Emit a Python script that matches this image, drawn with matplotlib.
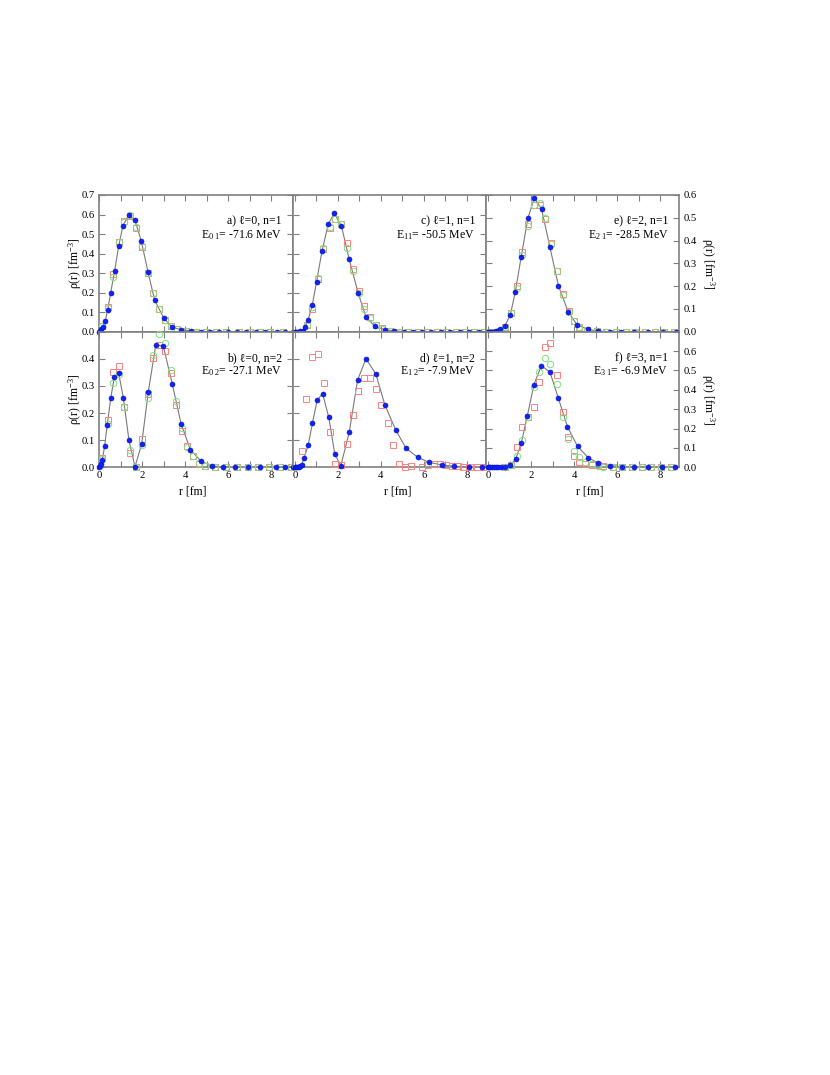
import matplotlib
matplotlib.use("Agg")
import matplotlib.pyplot as plt
from matplotlib.ticker import MultipleLocator, FormatStrFormatter

plt.rcParams['font.family'] = ['Liberation Serif', 'DejaVu Serif']
plt.rcParams['mathtext.fontset'] = 'custom'
plt.rcParams['mathtext.rm'] = 'Liberation Serif'
plt.rcParams['mathtext.it'] = 'Liberation Serif:italic'

# ---- data ----
# a) l=0, n=1
a_r = [0.0, 0.04, 0.10, 0.17, 0.28, 0.39, 0.53, 0.71, 0.90, 1.10, 1.37, 1.66, 1.96, 2.27, 2.58,
       3.01, 3.40, 3.82, 4.27, 4.72, 5.16, 5.56, 5.97, 6.40, 6.81, 7.29, 7.71, 8.25, 8.64, 9.03]
a_blue = [0.0, 0.004, 0.012, 0.025, 0.055, 0.113, 0.20, 0.31, 0.437, 0.543, 0.599, 0.570, 0.462, 0.304, 0.160,
          0.068, 0.022, 0.010, 0.004, 0.001, 0, 0, 0, 0, 0, 0, 0, 0, 0, 0]
a_rr = [0.13, 0.39, 0.65, 0.90, 1.17, 1.43, 1.71, 1.99, 2.25, 2.52, 2.77, 3.05, 3.34, 3.60, 4.04,
        4.50, 4.97, 5.44, 5.90, 6.50, 7.00, 7.46, 7.93, 8.55]
a_red = [0.03, 0.128, 0.295, 0.460, 0.565, 0.590, 0.530, 0.432, 0.300, 0.200, 0.116, 0.060, 0.030, 0.013, 0.003,
         0, 0, 0, 0, 0, 0, 0, 0, 0]
a_green = [0.03, 0.120, 0.280, 0.460, 0.560, 0.600, 0.535, 0.440, 0.300, 0.200, 0.116, 0.058, 0.028, 0.012, 0.003,
           0, 0, 0, 0, 0, 0, 0, 0, 0]

# b) l=0, n=2
b_r = [0.0, 0.04, 0.08, 0.14, 0.25, 0.37, 0.53, 0.70, 0.90, 1.12, 1.38, 1.66, 1.97, 2.28, 2.63,
       2.98, 3.40, 3.81, 4.24, 4.74, 5.24, 5.75, 6.30, 6.90, 7.50, 8.20, 8.64, 9.03]
b_blue = [0.0, 0.004, 0.012, 0.028, 0.079, 0.157, 0.254, 0.332, 0.347, 0.256, 0.100, 0.002, 0.085, 0.278, 0.452,
          0.446, 0.306, 0.159, 0.065, 0.022, 0.005, 0.001, 0, 0, 0, 0, 0, 0]
b_rr = [0.13, 0.39, 0.65, 0.90, 1.17, 1.43, 1.70, 1.97, 2.25, 2.52, 2.80, 3.06, 3.34, 3.57, 3.85,
        4.10, 4.37, 4.66, 4.93, 5.40, 5.90, 6.40, 6.90, 7.40, 7.90, 8.40, 8.90]
b_red = [0.035, 0.175, 0.350, 0.374, 0.221, 0.054, 0.0, 0.104, 0.270, 0.402, 0.452, 0.427, 0.347, 0.230, 0.134,
         0.077, 0.040, 0.013, 0.006, 0.001, 0, 0, 0, 0, 0, 0, 0]
b_green = [0.030, 0.160, 0.311, 0.345, 0.222, 0.062, 0.0, 0.082, 0.255, 0.415, 0.490, 0.460, 0.360, 0.245, 0.145,
           0.075, 0.040, 0.015, 0.006, 0.001, 0, 0, 0, 0, 0, 0, 0]

# c) l=1, n=1
c_r = [0.0, 0.05, 0.10, 0.17, 0.26, 0.36, 0.47, 0.62, 0.81, 1.01, 1.26, 1.55, 1.83, 2.17, 2.53,
       2.95, 3.31, 3.73, 4.18, 4.63, 5.06, 5.51, 5.92, 6.35, 6.80, 7.20, 7.69, 8.12, 8.57, 8.93]
c_blue = [0, 0, 0, 0.001, 0.002, 0.006, 0.022, 0.060, 0.135, 0.256, 0.411, 0.549, 0.607, 0.541, 0.370,
          0.197, 0.075, 0.027, 0.011, 0.004, 0.001, 0, 0, 0, 0, 0, 0, 0, 0, 0]
c_rr = [0.57, 0.82, 1.09, 1.32, 1.63, 1.89, 2.17, 2.44, 2.69, 2.97, 3.23, 3.49, 3.77, 4.04, 4.43,
        4.84, 5.28, 5.75, 6.16, 6.60, 7.03, 7.48, 7.92, 8.35, 8.82]
c_red = [0.032, 0.118, 0.270, 0.425, 0.530, 0.578, 0.553, 0.456, 0.319, 0.206, 0.130, 0.075, 0.036, 0.019, 0.006,
         0, 0, 0, 0, 0, 0, 0, 0, 0, 0]
c_green = [0.036, 0.125, 0.275, 0.430, 0.535, 0.578, 0.550, 0.430, 0.310, 0.200, 0.118, 0.070, 0.032, 0.015, 0.005,
           0, 0, 0, 0, 0, 0, 0, 0, 0, 0]

# d) l=1, n=2
d_r = [0.0, 0.05, 0.10, 0.17, 0.24, 0.31, 0.43, 0.62, 0.82, 1.04, 1.29, 1.58, 1.86, 2.14, 2.53,
       2.92, 3.31, 3.77, 4.19, 4.69, 5.17, 5.71, 6.26, 6.83, 7.41, 8.10, 8.73]
d_blue = [0, 0, 0, 0.001, 0.003, 0.009, 0.033, 0.082, 0.163, 0.248, 0.272, 0.184, 0.048, 0.006, 0.129,
          0.322, 0.400, 0.344, 0.230, 0.138, 0.071, 0.037, 0.018, 0.009, 0.004, 0.001, 0.0]
d_rr = [0.31, 0.54, 0.81, 1.09, 1.37, 1.63, 1.88, 2.14, 2.41, 2.69, 2.95, 3.21, 3.49, 3.77, 4.01,
        4.32, 4.58, 4.84, 5.12, 5.39, 5.90, 6.20, 6.48, 6.76, 7.04, 7.33, 7.58, 7.84, 8.15, 8.46, 8.77]
d_red = [0.061, 0.252, 0.405, 0.418, 0.310, 0.129, 0.012, 0.010, 0.086, 0.193, 0.283, 0.329, 0.329, 0.289, 0.231,
         0.163, 0.084, 0.013, 0.002, 0.005, 0.002, 0.009, 0.012, 0.012, 0.010, 0.005, 0.005, 0.002, 0.0, 0.0, 0.0]

# e) l=2, n=1
e_r = [0.0, 0.05, 0.10, 0.17, 0.26, 0.36, 0.45, 0.56, 0.78, 1.03, 1.26, 1.54, 1.85, 2.15, 2.49,
       2.87, 3.27, 3.72, 4.14, 4.64, 5.10, 5.66, 6.18, 6.80, 7.42, 8.12, 8.75]
e_blue = [0, 0, 0, 0, 0, 0.001, 0.003, 0.010, 0.026, 0.073, 0.173, 0.330, 0.498, 0.588, 0.537,
          0.373, 0.202, 0.088, 0.030, 0.010, 0.003, 0, 0, 0, 0, 0, 0]
e_rr = [0.05, 0.30, 0.55, 0.80, 1.05, 1.32, 1.59, 1.85, 2.12, 2.39, 2.66, 2.91, 3.21, 3.47, 3.74,
        4.00, 4.24, 4.60, 5.05, 5.50, 5.95, 6.40, 6.85, 7.30, 7.75, 8.20, 8.65]
e_red = [0, 0, 0.005, 0.020, 0.083, 0.200, 0.350, 0.474, 0.556, 0.556, 0.495, 0.390, 0.268, 0.165, 0.090,
         0.047, 0.020, 0.007, 0.002, 0, 0, 0, 0, 0, 0, 0, 0]
e_green = [0, 0, 0.004, 0.020, 0.082, 0.190, 0.335, 0.465, 0.556, 0.566, 0.500, 0.385, 0.268, 0.160, 0.088,
           0.045, 0.020, 0.007, 0.002, 0, 0, 0, 0, 0, 0, 0, 0]

# f) l=3, n=1
f_r = [0.0, 0.05, 0.10, 0.17, 0.26, 0.36, 0.47, 0.62, 0.78, 1.04, 1.28, 1.54, 1.82, 2.13, 2.48,
       2.88, 3.27, 3.69, 4.16, 4.66, 5.12, 5.69, 6.23, 6.80, 7.46, 8.08, 8.70]
f_blue = [0, 0, 0, 0, 0, 0, 0, 0, 0.001, 0.012, 0.043, 0.124, 0.263, 0.427, 0.525,
          0.490, 0.356, 0.210, 0.108, 0.050, 0.021, 0.009, 0.003, 0.001, 0, 0, 0]
f_rr = [0.80, 1.06, 1.32, 1.59, 1.85, 2.12, 2.38, 2.64, 2.90, 3.20, 3.46, 3.73, 4.01, 4.24, 4.52,
        4.83, 5.09, 5.35, 5.80, 6.25, 6.70, 7.15, 7.60, 8.05, 8.50]
f_red = [0.002, 0.012, 0.105, 0.209, 0.260, 0.310, 0.440, 0.620, 0.640, 0.475, 0.286, 0.154, 0.058, 0.029, 0.017,
         0.012, 0.010, 0.007, 0.003, 0.001, 0, 0, 0, 0, 0]
f_green = [0.002, 0.010, 0.058, 0.141, 0.260, 0.415, 0.490, 0.565, 0.533, 0.428, 0.258, 0.145, 0.085, 0.052, 0.026,
           0.015, 0.008, 0.004, 0.002, 0, 0, 0, 0, 0, 0]

labels = ["a) ℓ=0, n=1", "b) ℓ=0, n=2", "c) ℓ=1, n=1", "d) ℓ=1, n=2", "e) ℓ=2, n=1", "f) ℓ=3, n=1"]
energies = ["E$_{0\\ 1}$= -71.6 MeV", "E$_{0\\ 2}$= -27.1 MeV", "E$_{11}$= -50.5 MeV",
            "E$_{1\\ 2}$= -7.9 MeV", "E$_{2\\ 1}$= -28.5 MeV", "E$_{3\\ 1}$= -6.9 MeV"]

panels = [
    (a_r, a_blue, a_rr, a_red, a_green),
    (b_r, b_blue, b_rr, b_red, b_green),
    (c_r, c_blue, c_rr, c_red, c_green),
    (d_r, d_blue, d_rr, d_red, None),
    (e_r, e_blue, e_rr, e_red, e_green),
    (f_r, f_blue, f_rr, f_red, f_green),
]
ymax = [0.7, 0.5, 0.7, 0.5, 0.6, 0.7]
ylab_max = [0.7, 0.4, 0.7, 0.4, 0.6, 0.6]

W, H = 830, 1075
fig = plt.figure(figsize=(W / 100, H / 100), dpi=100)

col_left = [99.3, 292.7, 486.0]
col_w = 193.4
row_top = [195.0, 331.7]
row_h = [136.7, 135.6]
xlab_pos = [0.484, 0.544, 0.538]

spine_col = '#808080'
for i in range(6):
    col, row = i // 2, i % 2
    ax = fig.add_axes([col_left[col] / W, 1 - (row_top[row] + row_h[row]) / H, col_w / W, row_h[row] / H])
    rb, yb, rr, yr, yg = panels[i]
    ax.plot(rb, yb, color='#7a7a7a', lw=0.8, zorder=2)
    ax.plot(rr, yr, 's', mfc='none', mec='#ff8080', ms=4.2, mew=0.7, clip_on=False, zorder=3)
    if yg is not None:
        ax.plot(rr, yg, 'o', mfc='none', mec='#80e080', ms=4.6, mew=0.7, clip_on=False, zorder=3)
    ax.plot(rb, yb, 'o', color='#1020ff', mec='#0010c0', mew=0.4, ms=3.6, clip_on=False, zorder=4)

    if col == 0:
        ax.set_xlim(0.0, 9.0)
    else:
        ax.set_xlim(-0.1, 8.9)
    ax.set_ylim(0, ymax[i])

    ax.xaxis.set_major_locator(MultipleLocator(2))
    ax.xaxis.set_minor_locator(MultipleLocator(1))
    ax.yaxis.set_major_locator(MultipleLocator(0.1))
    ax.yaxis.set_major_formatter(FormatStrFormatter('%.1f'))
    ax.tick_params(which='both', direction='in', top=True, right=True, length=4, width=0.8,
                   color=spine_col, labelsize=7.7, pad=3)
    for s in ax.spines.values():
        s.set_color(spine_col)
        s.set_linewidth(1.2)

    if row == 0:
        ax.tick_params(labelbottom=False)
    else:
        ax.text(xlab_pos[col], -0.18, "r [fm]", transform=ax.transAxes, ha='center', va='center', fontsize=8.5)

    if col == 0:
        ax.set_ylabel("ρ(r) [fm$^{-3}$]", fontsize=8.5, labelpad=-1.5)
    elif col == 1:
        ax.tick_params(labelleft=False)
    else:
        ax.tick_params(labelleft=False, labelright=True)
        ax.yaxis.set_label_position('right')
        ax.set_ylabel("ρ(r) [fm$^{-3}$]", fontsize=8.5, rotation=270, va='bottom', labelpad=1.5)

    # hide labels above the printed maximum
    lim = ylab_max[i]
    for t, v in zip(ax.yaxis.get_major_ticks(), ax.get_yticks()):
        if v > lim + 1e-6:
            t.label1.set_visible(False)
            t.label2.set_visible(False)

    ax.text(0.943, 0.805, labels[i], transform=ax.transAxes, ha='right', va='center', fontsize=8.5)
    ax.text(0.943, 0.707, energies[i], transform=ax.transAxes, ha='right', va='center', fontsize=8.5)

fig.savefig("out.png", dpi=100)
